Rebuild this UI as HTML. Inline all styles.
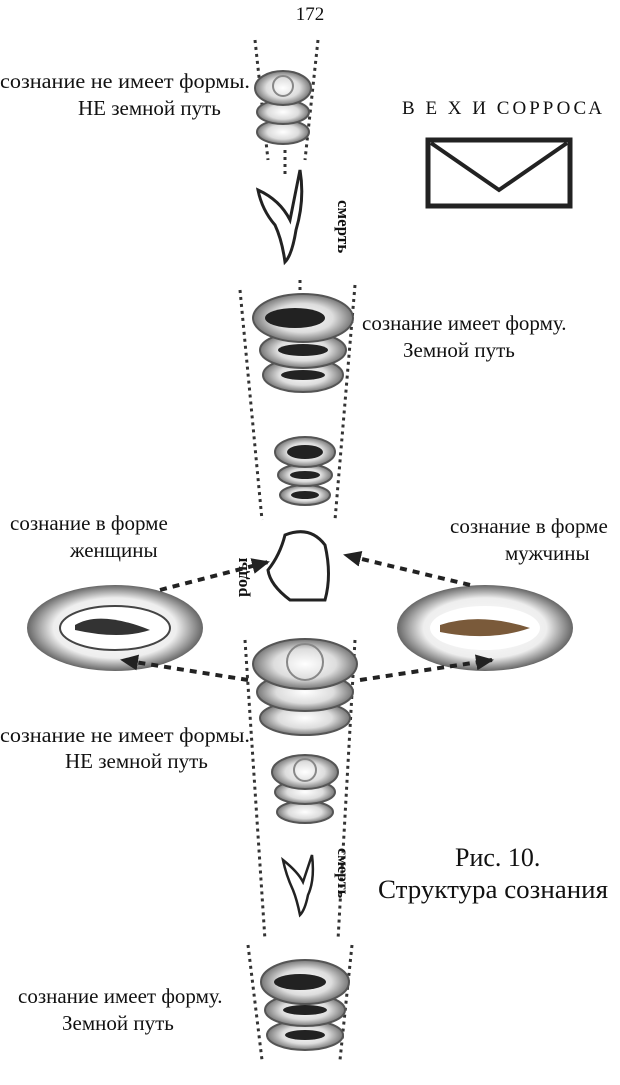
<!DOCTYPE html>
<html><head><meta charset="utf-8"><style>
html,body{margin:0;padding:0;background:#fff;}
svg{display:block}
text{font-family:"Liberation Serif",serif;fill:#111}
</style></head><body>
<svg width="620" height="1085" viewBox="0 0 620 1085" xmlns="http://www.w3.org/2000/svg">
<defs>
<radialGradient id="g" cx="50%" cy="50%" r="50%">
<stop offset="0" stop-color="#fff"/><stop offset="0.6" stop-color="#ddd"/><stop offset="1" stop-color="#777"/>
</radialGradient>
<radialGradient id="ov" cx="50%" cy="50%" r="50%">
<stop offset="0" stop-color="#fff"/><stop offset="0.7" stop-color="#eee"/><stop offset="1" stop-color="#666"/>
</radialGradient>
<marker id="ar" markerUnits="userSpaceOnUse" markerWidth="18" markerHeight="16" refX="16" refY="8" orient="auto"><path d="M0,0 L18,8 L0,16 Z" fill="#222"/></marker>
</defs>
<text x="310" y="20" font-size="19" text-anchor="middle">172</text>

<g stroke="#333" stroke-width="3" stroke-dasharray="3,4" fill="none">
<line x1="255" y1="40" x2="268" y2="160"/><line x1="318" y1="40" x2="305" y2="160"/>
<line x1="285" y1="150" x2="285" y2="175"/>
<line x1="240" y1="290" x2="262" y2="520"/><line x1="355" y1="285" x2="335" y2="520"/>
<line x1="300" y1="280" x2="300" y2="300"/>
<line x1="245" y1="640" x2="265" y2="940"/><line x1="355" y1="640" x2="338" y2="940"/>
<line x1="248" y1="945" x2="262" y2="1060"/><line x1="352" y1="945" x2="340" y2="1060"/>
</g>

<g stroke="#555" stroke-width="2" fill="url(#g)">
<ellipse cx="283" cy="132" rx="26" ry="12"/><ellipse cx="283" cy="112" rx="26" ry="12"/><ellipse cx="283" cy="88" rx="28" ry="17"/>
<ellipse cx="303" cy="375" rx="40" ry="17"/><ellipse cx="303" cy="350" rx="43" ry="18"/><ellipse cx="303" cy="318" rx="50" ry="24"/>
<ellipse cx="305" cy="495" rx="25" ry="10"/><ellipse cx="305" cy="475" rx="27" ry="11"/><ellipse cx="305" cy="452" rx="30" ry="15"/>
<ellipse cx="305" cy="718" rx="45" ry="17"/><ellipse cx="305" cy="692" rx="48" ry="19"/><ellipse cx="305" cy="664" rx="52" ry="25"/>
<ellipse cx="305" cy="812" rx="28" ry="11"/><ellipse cx="305" cy="792" rx="30" ry="12"/><ellipse cx="305" cy="772" rx="33" ry="17"/>
<ellipse cx="305" cy="1035" rx="38" ry="15"/><ellipse cx="305" cy="1010" rx="40" ry="16"/><ellipse cx="305" cy="982" rx="44" ry="22"/>
</g>
<g fill="#222">
<ellipse cx="295" cy="318" rx="30" ry="10"/><ellipse cx="303" cy="350" rx="25" ry="6"/><ellipse cx="303" cy="375" rx="22" ry="5"/>
<ellipse cx="305" cy="452" rx="18" ry="7"/><ellipse cx="305" cy="475" rx="15" ry="4"/><ellipse cx="305" cy="495" rx="14" ry="4"/>
<ellipse cx="300" cy="982" rx="26" ry="8"/><ellipse cx="305" cy="1010" rx="22" ry="5"/><ellipse cx="305" cy="1035" rx="20" ry="5"/>
</g>
<g stroke="#888" stroke-width="2" fill="none">
<circle cx="283" cy="86" r="10"/><circle cx="305" cy="662" r="18"/><circle cx="305" cy="770" r="11"/>
</g>

<text x="0" y="88" font-size="21" textLength="250" lengthAdjust="spacingAndGlyphs">сознание не имеет формы.</text>
<text x="78" y="115" font-size="21">НЕ земной путь</text>
<text x="402" y="114" font-size="19" textLength="200" lengthAdjust="spacing">В Е Х И  СОРРОСА</text>
<rect x="428" y="140" width="142" height="66" fill="none" stroke="#222" stroke-width="5"/>
<polyline points="431,143 499,190 567,143" fill="none" stroke="#222" stroke-width="4"/>

<path d="M258,190 Q280,200 290,220 L300,170 Q305,200 296,230 Q292,255 285,262 Q282,240 275,225 Q262,210 258,190Z" fill="#fff" stroke="#222" stroke-width="3"/>
<text transform="translate(338,200) rotate(90)" font-size="17" font-weight="bold">смерть</text>

<text x="362" y="330" font-size="21">сознание имеет форму.</text>
<text x="403" y="357" font-size="21">Земной путь</text>

<text x="10" y="530" font-size="21">сознание в форме</text>
<text x="70" y="557" font-size="21">женщины</text>
<text x="450" y="533" font-size="21">сознание в форме</text>
<text x="505" y="560" font-size="21">мужчины</text>
<text transform="translate(247,597) rotate(-90)" font-size="17" font-weight="bold">роды</text>
<path d="M285,535 Q310,525 325,545 Q332,575 325,600 L290,600 Q270,585 268,570 Q280,555 285,535Z" fill="#fff" stroke="#222" stroke-width="3"/>

<ellipse cx="115" cy="628" rx="88" ry="43" fill="url(#ov)"/>
<ellipse cx="115" cy="628" rx="55" ry="22" fill="#fff" stroke="#444" stroke-width="2"/>
<path d="M75,625 Q100,610 150,630 Q120,640 75,630Z" fill="#333"/>
<ellipse cx="485" cy="628" rx="88" ry="43" fill="url(#ov)"/>
<ellipse cx="485" cy="628" rx="55" ry="22" fill="#fff"/>
<path d="M440,625 Q480,612 530,628 Q490,642 440,632Z" fill="#7a5a3a"/>

<g stroke="#222" stroke-width="4" stroke-dasharray="7,6" fill="none" marker-end="url(#ar)">
<line x1="160" y1="590" x2="268" y2="562"/>
<line x1="470" y1="585" x2="345" y2="555"/>
<line x1="248" y1="680" x2="122" y2="660"/>
<line x1="360" y1="680" x2="492" y2="660"/>
</g>

<text x="0" y="742" font-size="21" textLength="250" lengthAdjust="spacingAndGlyphs">сознание не имеет формы.</text>
<text x="65" y="768" font-size="21">НЕ земной путь</text>

<text x="455" y="866" font-size="26">Рис. 10.</text>
<text x="378" y="898" font-size="26" textLength="230" lengthAdjust="spacingAndGlyphs">Структура сознания</text>

<path d="M283,860 Q298,872 303,882 L312,855 Q315,880 308,895 Q305,910 300,915 Q297,900 293,890 Q286,875 283,860Z" fill="#fff" stroke="#222" stroke-width="2.5"/>
<text transform="translate(338,848) rotate(90)" font-size="16" font-weight="bold">смерть</text>

<text x="18" y="1003" font-size="21">сознание имеет форму.</text>
<text x="62" y="1030" font-size="21">Земной путь</text>
</svg>
</body></html>
